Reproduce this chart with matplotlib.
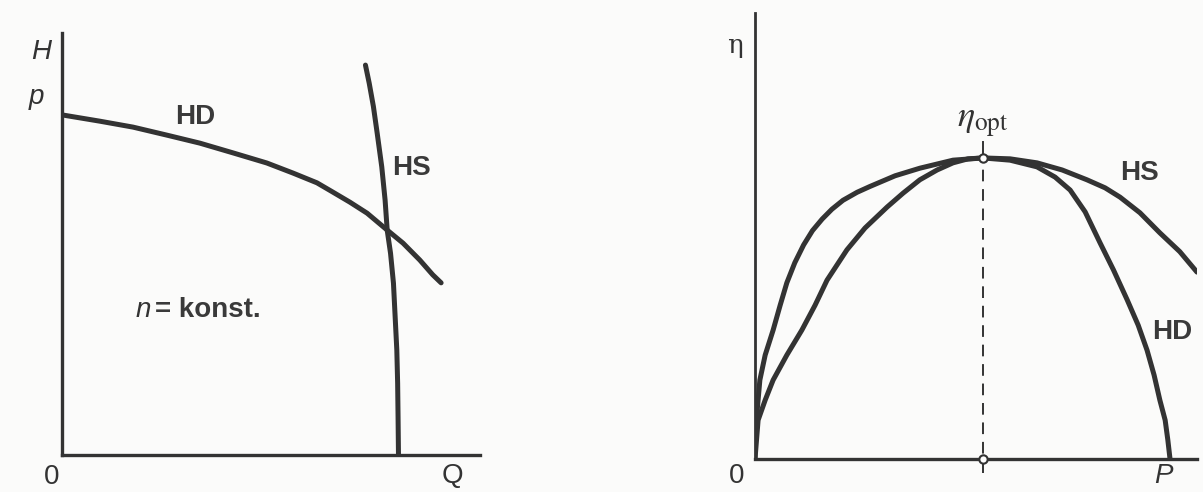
import matplotlib
matplotlib.use("Agg")
from matplotlib import pyplot as plt

# Left panel: pump curve (HD) and system curve (HS), axes as fractions of axis length
hd_q = [0.0, 0.091, 0.170, 0.251, 0.330, 0.409, 0.490, 0.553, 0.610, 0.648,
        0.689, 0.730, 0.778, 0.816, 0.856, 0.887, 0.907]
hd_h = [0.806, 0.791, 0.777, 0.758, 0.739, 0.716, 0.692, 0.668, 0.645, 0.623,
        0.599, 0.573, 0.533, 0.502, 0.462, 0.427, 0.408]
hs_q = [0.726, 0.735, 0.745, 0.754, 0.765, 0.773, 0.778, 0.786, 0.793, 0.797,
        0.801, 0.803, 0.804, 0.805]
hs_h = [0.924, 0.881, 0.826, 0.763, 0.683, 0.604, 0.533, 0.478, 0.407, 0.328,
        0.249, 0.170, 0.091, 0.0]

# Right panel: efficiency curves over P
eta_hs_p = [0.0, 0.0, 0.005, 0.011, 0.023, 0.041, 0.057, 0.072, 0.090, 0.110,
            0.130, 0.152, 0.174, 0.199, 0.231, 0.260, 0.317, 0.373, 0.448, 0.516,
            0.577, 0.638, 0.695, 0.751, 0.792, 0.826, 0.871, 0.916, 0.961, 1.0]
eta_hs = [0.0, 0.043, 0.110, 0.177, 0.233, 0.289, 0.345, 0.395, 0.440, 0.480,
          0.512, 0.538, 0.560, 0.580, 0.598, 0.611, 0.635, 0.652, 0.670, 0.675,
          0.673, 0.664, 0.648, 0.626, 0.608, 0.587, 0.552, 0.507, 0.465, 0.419]
eta_hd_p = [0.0, 0.007, 0.023, 0.041, 0.072, 0.106, 0.136, 0.163, 0.208, 0.249,
            0.299, 0.335, 0.373, 0.412, 0.448, 0.482, 0.516, 0.577, 0.638, 0.679,
            0.713, 0.747, 0.781, 0.811, 0.842, 0.867, 0.887, 0.903, 0.916, 0.928,
            0.934, 0.939]
eta_hd = [0.0, 0.087, 0.132, 0.177, 0.233, 0.289, 0.345, 0.401, 0.469, 0.518,
          0.565, 0.596, 0.626, 0.648, 0.664, 0.673, 0.675, 0.670, 0.655, 0.632,
          0.603, 0.554, 0.484, 0.424, 0.357, 0.300, 0.244, 0.188, 0.132, 0.087,
          0.043, 0.0]
p_opt = 0.516
eta_opt = 0.675

ink = "#333333"
sans = ["Liberation Sans", "DejaVu Sans"]
plt.rcParams["mathtext.fontset"] = "stix"

fig = plt.figure(figsize=(12.03, 4.92), dpi=100)
fig.patch.set_facecolor("#fbfbfa")

curve = dict(color=ink, lw=3.6, solid_capstyle="round", solid_joinstyle="round")
label = dict(fontsize=20, family=sans, color=ink, ha="center", va="center")
bold = dict(label, color="#3a3a3a", fontweight="bold")

# left chart
ax1 = fig.add_axes([0.0515, 0.0752, 0.3475, 0.8577])
ax1.set_xlim(0, 1)
ax1.set_ylim(0, 1)
ax1.plot(hd_q, hd_h, **curve)
ax1.plot(hs_q, hs_h, **curve)
ax1.text(-0.05, 0.955, "H", style="italic", **label)
ax1.text(-0.062, 0.848, "p", style="italic", **label)
ax1.text(0.318, 0.801, "HD", **bold)
ax1.text(0.837, 0.68, "HS", **bold)
ax1.text(0.212, 0.344, "n", style="italic", **dict(label, ha="right"))
ax1.text(0.222, 0.344, "= konst.", **dict(bold, ha="left"))
ax1.text(-0.024, -0.052, "0", **label)
ax1.text(0.935, -0.080, "Q", **dict(label, va="bottom"))

# right chart
ax2 = fig.add_axes([0.6276, 0.0671, 0.3674, 0.9065])
ax2.set_xlim(0, 1)
ax2.set_ylim(0, 1)
ax2.plot(eta_hs_p, eta_hs, **curve)
ax2.plot(eta_hd_p, eta_hd, **curve)
ax2.plot([p_opt, p_opt], [-0.032, eta_opt], color=ink, lw=1.4, ls=(0, (6, 4)), clip_on=False)
ax2.plot([p_opt, p_opt], [eta_opt, 0.711], color=ink, lw=1.4)
ax2.plot([p_opt, p_opt], [0, eta_opt], ls="none", marker="o", ms=6, mfc="white",
         mec=ink, mew=1.5, clip_on=False, zorder=5)
ax2.text(-0.045, 0.928, "η", fontsize=19, family=["DejaVu Serif"], color=ink,
         ha="center", va="center")
ax2.text(p_opt, 0.753, "$\\mathit{\\eta}_{\\mathrm{opt}}$", fontsize=26, color=ink,
         ha="center", va="center")
ax2.text(0.871, 0.641, "HS", **bold)
ax2.text(0.943, 0.285, "HD", **bold)
ax2.text(-0.041, -0.067, "0", **dict(label, va="bottom"))
ax2.text(0.923, -0.067, "P", style="italic", **dict(label, va="bottom"))

for ax, w in [(ax1, 2.4), (ax2, 2.0)]:
    ax.set_facecolor("none")
    ax.spines["top"].set_visible(False)
    ax.spines["right"].set_visible(False)
    ax.spines["left"].set_color(ink)
    ax.spines["bottom"].set_color(ink)
    ax.spines["left"].set_linewidth(w)
    ax.spines["bottom"].set_linewidth(2.4)
    ax.set_xticks([])
    ax.set_yticks([])

fig.savefig("out.png", dpi=100, facecolor=fig.get_facecolor())
